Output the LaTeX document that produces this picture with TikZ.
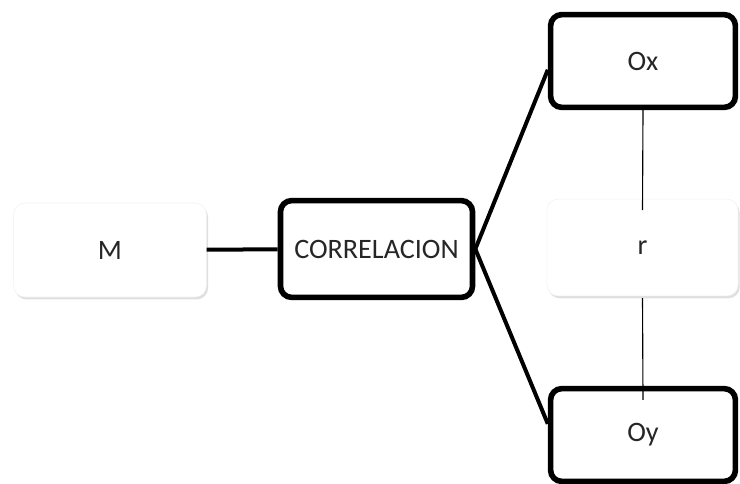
\documentclass[tikz,border=0pt]{standalone}
\usepackage{fontspec}
\setmainfont{Carlito}
\usetikzlibrary{positioning, shadows}

\begin{document}
\begin{tikzpicture}[x=0.025cm, y=-0.025cm]
			\tikzstyle{Box} = [ %basic rounded box with a soft shadow
				rectangle,
				rounded corners=8,
				text centered,
				fill=white,
				text=black!85,
				font=\fontsize{20}{24}\selectfont,
				drop shadow={opacity=0.25, shadow xshift=0.4mm, shadow yshift=-0.6mm}
			]
			\tikzstyle{PlainBox} = [
				Box,
				draw=gray!10,
				minimum width=4.8cm,
				minimum height=2.35cm
			]
			\tikzstyle{BoldBox} = [
				Box,
				draw=black,
				line width=1.4mm,
				minimum width=4.7cm,
				minimum height=2.35cm
			]
			\useasboundingbox (0,0) rectangle (740,484);

			\node (M) [PlainBox, minimum width=4.82cm] at (110,250) {M};
			\node (corr) [BoldBox, minimum width=4.8cm, minimum height=2.42cm] at (376.5,249) {CORRELACION};
			\node (Ox) [BoldBox, minimum width=4.62cm, minimum height=2.32cm] at (643,61) {Ox};
			\node (r) [PlainBox, minimum width=4.78cm, minimum height=2.42cm] at (642.5,247.5) {r};
			\node (Oy) [BoldBox, minimum width=4.62cm, minimum height=2.32cm] at (643,435) {Oy};

			\draw[line width=1mm] (M) -- (corr);
			\draw[line width=1mm] (corr.east) -- ([yshift=-1.45cm]Ox.north west);
			\draw[line width=1mm] (corr.east) -- ([yshift=-0.95cm]Oy.north west);
			\draw[thick] (Ox.south) -- ([yshift=-0.28cm]r.north);
			\draw[thick] ([yshift=-0.05cm]r.south) -- ([yshift=-0.35cm]Oy.north);
\end{tikzpicture}
\end{document}
